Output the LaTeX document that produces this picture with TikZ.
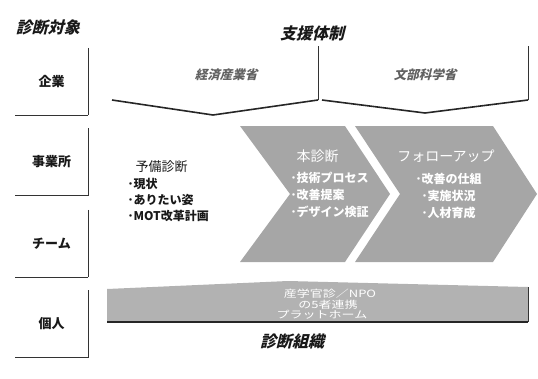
\documentclass[tikz,border=0pt]{standalone}
\usepackage{fontspec}
\setmainfont{Noto Sans CJK JP}
\newfontfamily\jpit[FakeSlant=0.25]{Noto Sans CJK JP}
\newfontfamily\jpwide[FakeStretch=1.3]{Noto Sans CJK JP}
\begin{document}
\begin{tikzpicture}[x=1pt,y=-1pt,
  head/.style={font=\jpit\bfseries\fontsize{16}{16}\selectfont, text=black!90},
  lbl/.style={font=\bfseries\fontsize{13}{13}\selectfont, text=black!90},
  lvlbox/.style={minimum width=73pt, minimum height=67pt, inner sep=0pt},
  boxline/.style={draw=black!80, line width=0.8pt},
  shadowline/.style={draw=black!85, line width=1.6pt},
  topt/.style={font=\jpit\bfseries\fontsize{12.5}{12.5}\selectfont, text=black!62},
  chev/.style={fill=black!35},
  band/.style={fill=black!30},
  wtitle/.style={font=\fontsize{14}{14}\selectfont, text=white},
  witem/.style={font=\bfseries\fontsize{12}{12}\selectfont, text=white, anchor=west},
  bitem/.style={font=\bfseries\fontsize{12}{12}\selectfont, text=black!90, anchor=west},
  bandt/.style={font=\jpwide\fontsize{10}{10}\selectfont, text=white, inner sep=0pt}]
\useasboundingbox (0,0) rectangle (538,378);

% headings
\node[head] (h1) at (48,27) {診断対象};
\node[head] (h2) at (312,33) {支援体制};
\node[head] (h3) at (292,341) {診断組織};

% left level boxes
\node[lvlbox] (b1) at (51.5,81.5) {};
\node[lvlbox] (b2) at (51.5,162) {};
\node[lvlbox] (b3) at (51.5,243.5) {};
\node[lvlbox] (b4) at (51.5,324) {};
\foreach \b in {b1,b2,b3,b4}{
  \draw[boxline] (\b.north east) -- (\b.south east);
  \draw[boxline, line width=1.1pt] (\b.south east) -- (\b.south west);
}
\node[lbl] (l1) at (b1) {企業};
\node[lbl] (l2) at (b2) {事業所};
\node[lbl] (l3) at (b3) {チーム};
\node[lbl] (l4) at (b4) {個人};

% top chevrons (ministries)
\coordinate (t1a) at (112,100);
\coordinate (t1b) at (213,115);
\coordinate (t1c) at (318,100);
\coordinate (t1d) at (318,46);
\coordinate (t2a) at (322,100);
\coordinate (t2b) at (425,113);
\coordinate (t2c) at (528,100);
\coordinate (t2d) at (528,46);
\draw[shadowline] (t1a) -- (t1b) -- (t1c);
\draw[boxline] (t1d) -- (t1c);
\draw[shadowline] (t2a) -- (t2b) -- (t2c);
\draw[boxline] (t2d) -- (t2c);
\node[topt] (m1) at (226,75) {経済産業省};
\node[topt] (m2) at (425,75) {文部科学省};

% middle chevrons
\fill[chev] (240,126) -- (345,126) -- (390,194) -- (345,262) -- (240,262) -- (290,194) -- cycle;
\fill[chev] (355,126) -- (493,126) -- (537,194) -- (493,262) -- (355,262) -- (400,194) -- cycle;

% preliminary diagnosis
\node[anchor=west, font=\fontsize{13}{13}\selectfont, text=black!90] (p0) at (132,167) {予備診断};
\node[bitem] (p1) at (124,184) {･現状};
\node[bitem] (p2) at (124,200) {･ありたい姿};
\node[bitem] (p3) at (124,216) {･MOT改革計画};

% main diagnosis
\node[wtitle, anchor=west] (q0) at (293,156) {本診断};
\node[witem] (q1) at (287,178) {･技術プロセス};
\node[witem] (q2) at (287,195) {･改善提案};
\node[witem] (q3) at (287,212) {･デザイン検証};

% follow-up
\node[wtitle] (r0) at (446,156) {フォローアップ};
\node[witem] (r1) at (412,179) {･改善の仕組};
\node[witem] (r2) at (418,196) {･実施状況};
\node[witem] (r3) at (418,213) {･人材育成};

% bottom band
\fill[band] (107,289) -- (288,281) -- (528,287) -- (528,322) -- (107,322) -- cycle;
\coordinate (ba) at (107,322);
\coordinate (bb) at (528,322);
\coordinate (bc) at (528,287);
\draw[shadowline] (ba) -- (bb);
\draw[boxline] (bc) -- (bb);
\node[bandt] (s1) at (330,293.5) {産学官診／NPO};
\node[bandt] (s2) at (328,304.5) {の5者連携};
\node[bandt] (s3) at (322,315) {プラットホーム};
\end{tikzpicture}
\end{document}
